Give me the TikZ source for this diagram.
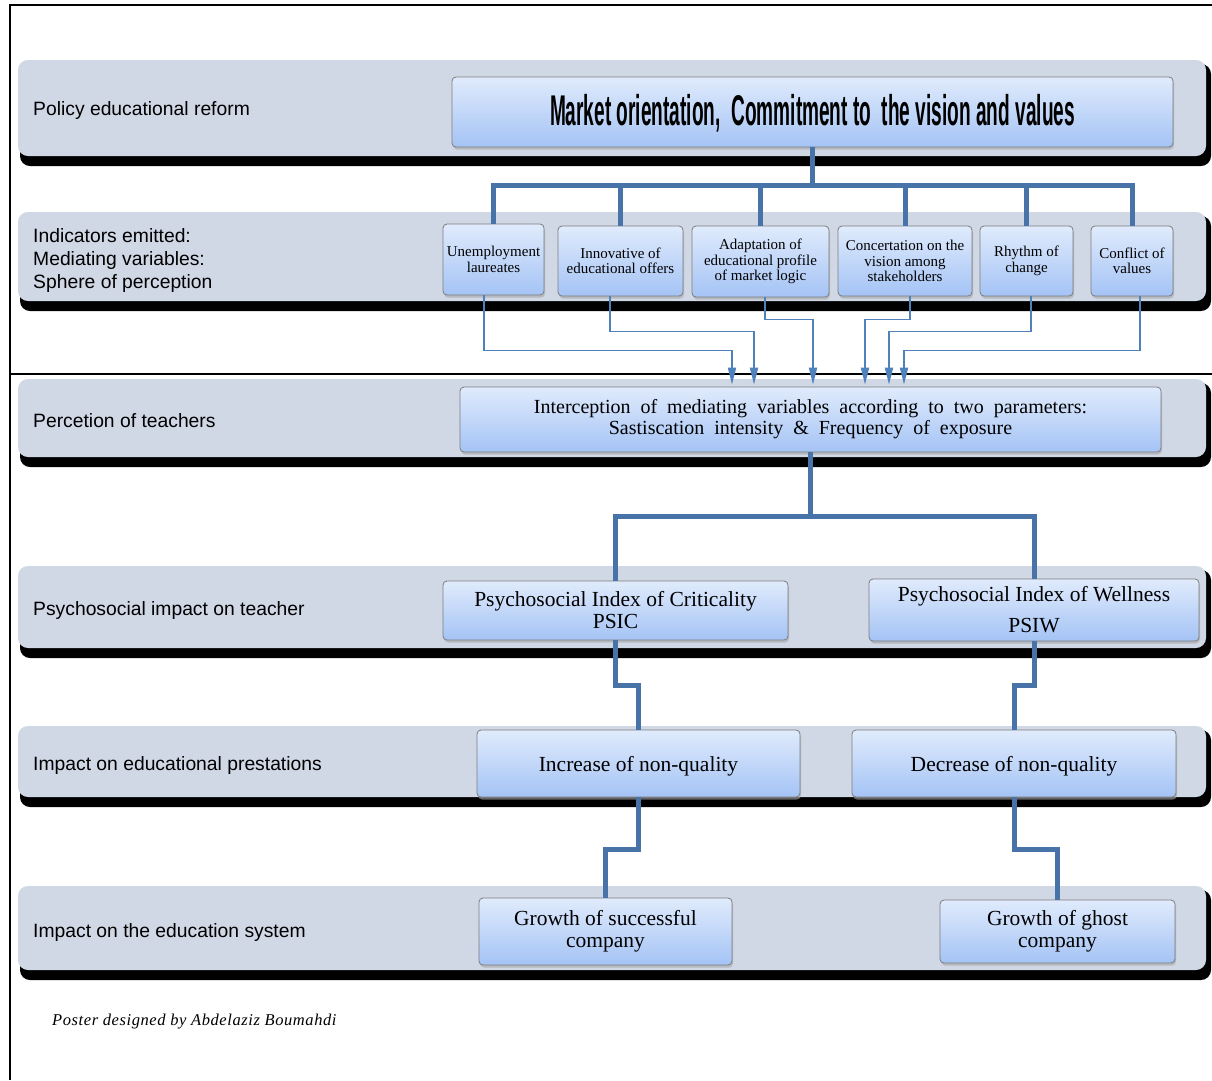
\documentclass[tikz,border=0pt]{standalone}
\usepackage{fontspec}
\usepackage{graphicx}
\setmainfont{Liberation Serif}
\setsansfont{Liberation Sans}
\newfontfamily\footfont[LetterSpace=3.5]{Liberation Serif}
\newcommand\widespaces{\spaceskip=10pt plus 2pt minus 1pt\relax}
\usetikzlibrary{arrows.meta,shadows}
\definecolor{bandfill}{RGB}{208,215,229}
\definecolor{boxtop}{RGB}{224,235,252}
\definecolor{boxbot}{RGB}{164,195,245}
\definecolor{boxline}{RGB}{125,125,125}
\definecolor{treec}{RGB}{72,115,168}
\definecolor{arrc}{RGB}{79,129,189}
\tikzset{
  box/.style={draw=boxline, line width=0.8pt, rounded corners=4pt, top color=boxtop, bottom color=boxbot,
    inner sep=0pt, align=center, font=\fontsize{21.5}{22}\selectfont,
    drop shadow={fill=gray!70, opacity=0.6, shadow xshift=1pt, shadow yshift=-2.5pt}},
  ind/.style={box, font=\fontsize{15}{15.5}\selectfont},
  lab/.style={anchor=west, inner sep=0pt, align=left, font=\sffamily\fontsize{19.3}{23}\selectfont},
  tree/.style={line width=5pt, treec},
  arr/.style={line width=1.8pt, arrc, -{Triangle[length=17pt,width=8pt]}, shorten >=2pt},
  bandshadow/.style={fill=black, rounded corners=10pt},
  bandbody/.style={fill=bandfill, rounded corners=10pt},
  frame/.style={line width=2pt, black}
}
\newcommand\myband[2]{%
  \fill[bandshadow] (20,#1+4) rectangle (1211,#2+10);
  \fill[bandbody] (18,#1) rectangle (1206,#2);}
\begin{document}
\begin{tikzpicture}[x=1pt,y=-1pt]
\useasboundingbox (0,0) rectangle (1212,1080);
\fill[white] (0,0) rectangle (1212,1080);
% frame
\draw[frame] (10,1080) -- (10,5) -- (1212,5);
\draw[frame] (10,374) -- (1212,374);
% bands
\myband{60}{156}
\myband{212}{301}
\myband{379}{457}
\myband{566}{648}
\myband{726}{797}
\myband{886}{970}
% band labels
\node[lab] (l1) at (33,111) {Policy educational reform};
\node[lab] (l2) at (33,261) {Indicators emitted:\\Mediating variables:\\Sphere of perception};
\node[lab] (l3) at (33,421) {Percetion of teachers};
\node[lab] (l4) at (33,610) {Psychosocial impact on teacher};
\node[lab] (l5) at (33,765) {Impact on educational prestations};
\node[lab] (l6) at (33,932) {Impact on the education system};
% top box
\node[box, minimum width=721pt, minimum height=70pt] (top) at (812.5,112)
  {\raisebox{-13pt}[0pt][0pt]{\resizebox{525pt}{\height}{\sffamily\bfseries\fontsize{43}{43}\selectfont Market orientation,\ \ Commitment to\ \ the vision and values}}};
% indicator boxes
\node[ind, minimum width=101pt, minimum height=71pt] (u1) at (493.5,259.5) {Unemployment\\laureates};
\node[ind, minimum width=125pt, minimum height=70pt] (u2) at (620.5,261) {Innovative of\\educational offers};
\node[ind, minimum width=137pt, minimum height=71pt] (u3) at (760.5,261.5) {Adaptation of\\educational profile\\of market logic};
\node[ind, minimum width=134pt, minimum height=70pt] (u4) at (905,261) {Concertation on the\\vision among\\stakeholders};
\node[ind, minimum width=93pt, minimum height=70pt] (u5) at (1026.5,261) {Rhythm of\\change};
\node[ind, minimum width=82pt, minimum height=70pt] (u6) at (1132,261) {Conflict of\\values};
% interception
\node[box, minimum width=701pt, minimum height=65pt, font=\fontsize{20}{21}\selectfont\widespaces] (int) at (810.5,419.5)
  {Interception of mediating variables according to two parameters:\\Sastiscation intensity \& Frequency of exposure};
% lower boxes
\node[box, minimum width=345pt, minimum height=59pt] (psic) at (615.5,610.5) {Psychosocial Index of Criticality\\PSIC};
\node[box, minimum width=330pt, minimum height=62pt] (psiw) at (1034,610) {Psychosocial Index of Wellness\\[9pt]PSIW};
\node[box, minimum width=323pt, minimum height=67pt] (inc) at (638.5,763.5) {\raisebox{-8pt}[0pt][0pt]{Increase of non-quality}};
\node[box, minimum width=324pt, minimum height=67pt] (dec) at (1014,763.5) {\raisebox{-8pt}[0pt][0pt]{Decrease of non-quality}};
\node[box, minimum width=253pt, minimum height=67pt] (gs) at (605.5,931.5) {Growth of successful\\company};
\node[box, minimum width=235pt, minimum height=63pt] (gg) at (1057.5,931.5) {Growth of ghost\\company};
% footer
\node[anchor=west, inner sep=0pt, font=\footfont\itshape\fontsize{16.5}{18}\selectfont] (foot) at (52,1022) {Poster designed by Abdelaziz Boumahdi};
% top tree
\foreach \c in {u1,u2,u3,u4,u5,u6}
  \draw[tree] (top.south) -- ++(0,38) -| (\c.north);
% thin arrows
\draw[arr] ([xshift=-9.5pt]u1.south) -- ++(0,55) -| ([xshift=-78.5pt]int.north);
\draw[arr] ([xshift=-10.5pt]u2.south) -- ++(0,35) -| ([xshift=-56.5pt]int.north);
\draw[arr] ([xshift=4.5pt]u3.south) -- ++(0,22) -| ([xshift=2.5pt]int.north);
\draw[arr] ([xshift=5pt]u4.south) -- ++(0,23) -| ([xshift=54.5pt]int.north);
\draw[arr] ([xshift=4.5pt]u5.south) -- ++(0,35) -| ([xshift=78.5pt]int.north);
\draw[arr] ([xshift=8pt]u6.south) -- ++(0,54) -| ([xshift=93.5pt]int.north);
% lower tree
\draw[tree] (int.south) -- ++(0,64) -| (psic.north);
\draw[tree] (int.south) -- ++(0,64) -| (psiw.north);
\draw[tree] (psic.south) -- ++(0,45) -| (inc.north);
\draw[tree] (psiw.south) -- ++(0,44) -| (dec.north);
\draw[tree] (inc.south) -- ++(0,52) -| (gs.north);
\draw[tree] (dec.south) -- ++(0,52) -| (gg.north);
\end{tikzpicture}
\end{document}
